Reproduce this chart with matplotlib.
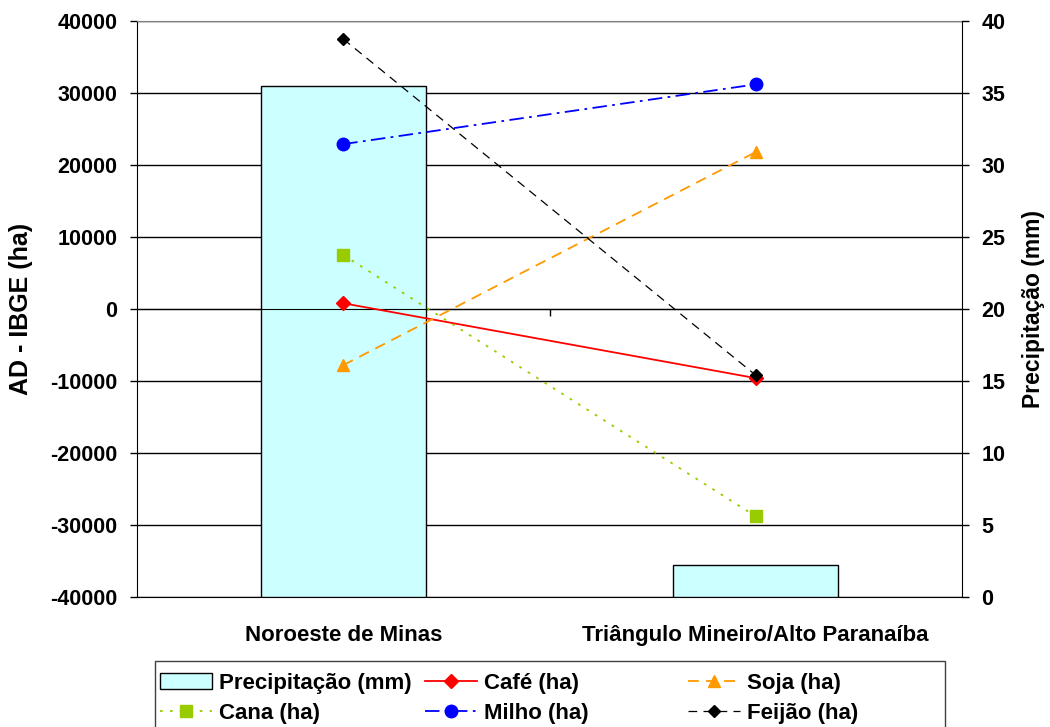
import matplotlib
matplotlib.use('Agg')
import matplotlib.pyplot as plt
from matplotlib.patches import Rectangle

# Dados
regioes = ['Noroeste de Minas', 'Triângulo Mineiro/Alto Paranaíba']
precipitacao = [35.5, 2.2]
cafe = [800, -9600]
soja = [-7800, 21800]
cana = [7500, -28800]
milho = [22900, 31200]
feijao = [37500, -9200]
ticks_ha = [-40000, -30000, -20000, -10000, 0, 10000, 20000, 30000, 40000]
ticks_mm = [0, 5, 10, 15, 20, 25, 30, 35, 40]

plt.rcParams['font.family'] = ['Liberation Sans', 'DejaVu Sans']
plt.rcParams['font.weight'] = 'bold'

W, H = 1050, 727
fig = plt.figure(figsize=(W / 100, H / 100), dpi=100)
pos = [137 / W, 130 / H, 825 / W, 576 / H]
x = [0, 1]

# Eixo da esquerda: escala em hectares e linhas de grade
ax = fig.add_axes(pos)
ax.set_xlim(-0.5, 1.5)
ax.set_ylim(-40000, 40000)
ax.set_yticks(ticks_ha)
ax.set_yticklabels([str(t) for t in ticks_ha])
ax.grid(axis='y', color='black', lw=1)
ax.set_axisbelow(True)
ax.set_xticks(x)
ax.set_xticklabels(regioes)
ax.tick_params(axis='x', length=0, pad=20, labelsize=16)
ax.tick_params(axis='y', direction='out', length=5, width=1, labelsize=15.5, pad=9)
ax.spines['right'].set_visible(False)
ax.spines['top'].set_color('#808080')
ax.spines['left'].set_color('black')
ax.spines['bottom'].set_color('black')
ax.set_ylabel('AD - IBGE (ha)', fontsize=18, fontweight='bold')
ax.yaxis.set_label_coords(-0.126, 0.5)

# Eixo da direita: precipitação em barras
axb = ax.twinx()
axb.set_ylim(0, 40)
axb.set_yticks(ticks_mm)
bars = axb.bar(x, precipitacao, width=0.4, color='#CCFFFF', edgecolor='black', lw=1)
axb.tick_params(axis='y', direction='out', length=5, width=1, labelsize=15.5, pad=9)
for s in ['left', 'top', 'bottom']:
    axb.spines[s].set_visible(False)
axb.spines['right'].set_color('black')
axb.set_ylabel('Precipitação (mm)', fontsize=16.5, fontweight='bold', rotation=90)
axb.yaxis.set_label_coords(1.073, 0.5)

# Eixo superior: linhas das culturas e eixo das categorias no zero
axl = fig.add_axes(pos)
axl.patch.set_visible(False)
axl.set_xlim(-0.5, 1.5)
axl.set_ylim(-40000, 40000)
for s in ['left', 'right', 'top']:
    axl.spines[s].set_visible(False)
axl.spines['bottom'].set_position(('data', 0))
axl.spines['bottom'].set_color('black')
axl.set_xticks([0.5])
axl.set_xticklabels([])
axl.set_yticks([])
axl.tick_params(axis='x', direction='out', length=5, width=1, color='black')

l_cafe, = axl.plot(x, cafe, color='red', lw=1.3, ls='-', marker='D', ms=7, zorder=3)
l_soja, = axl.plot(x, soja, color='#FF9900', lw=1.3, dashes=(6, 4), marker='^', ms=9, zorder=3)
l_cana, = axl.plot(x, cana, color='#99CC00', lw=1.3, dashes=(1.5, 4), marker='s', ms=8, zorder=3)
l_milho, = axl.plot(x, milho, color='blue', lw=1.3, dashes=(8, 3, 1.5, 3), marker='o', ms=9, zorder=3)
l_feijao, = axl.plot(x, feijao, color='black', lw=0.9, dashes=(7, 5), marker='D', ms=6.5, zorder=3)

# Legenda em três colunas com moldura comum
cols = [
    ([bars.patches[0], l_cana], ['Precipitação (mm)', 'Cana (ha)'], 160),
    ([l_cafe, l_milho], ['Café (ha)', 'Milho (ha)'], 425),
    ([l_soja, l_feijao], ['Soja (ha)', 'Feijão (ha)'], 688),
]
for handles, labels, x0 in cols:
    fig.legend(handles, labels, loc='upper left', bbox_to_anchor=(x0 / W, 1 - 673 / H),
               frameon=False, borderpad=0, borderaxespad=0, handlelength=2.35,
               handletextpad=0.3, labelspacing=0.4,
               prop={'size': 16, 'weight': 'bold'})
fig.add_artist(Rectangle((155 / W, -0.05), (945 - 155) / W, 0.05 + (727 - 661) / H,
                         transform=fig.transFigure, fill=False, edgecolor='#404040', lw=1))

fig.savefig('out.png', dpi=100)
